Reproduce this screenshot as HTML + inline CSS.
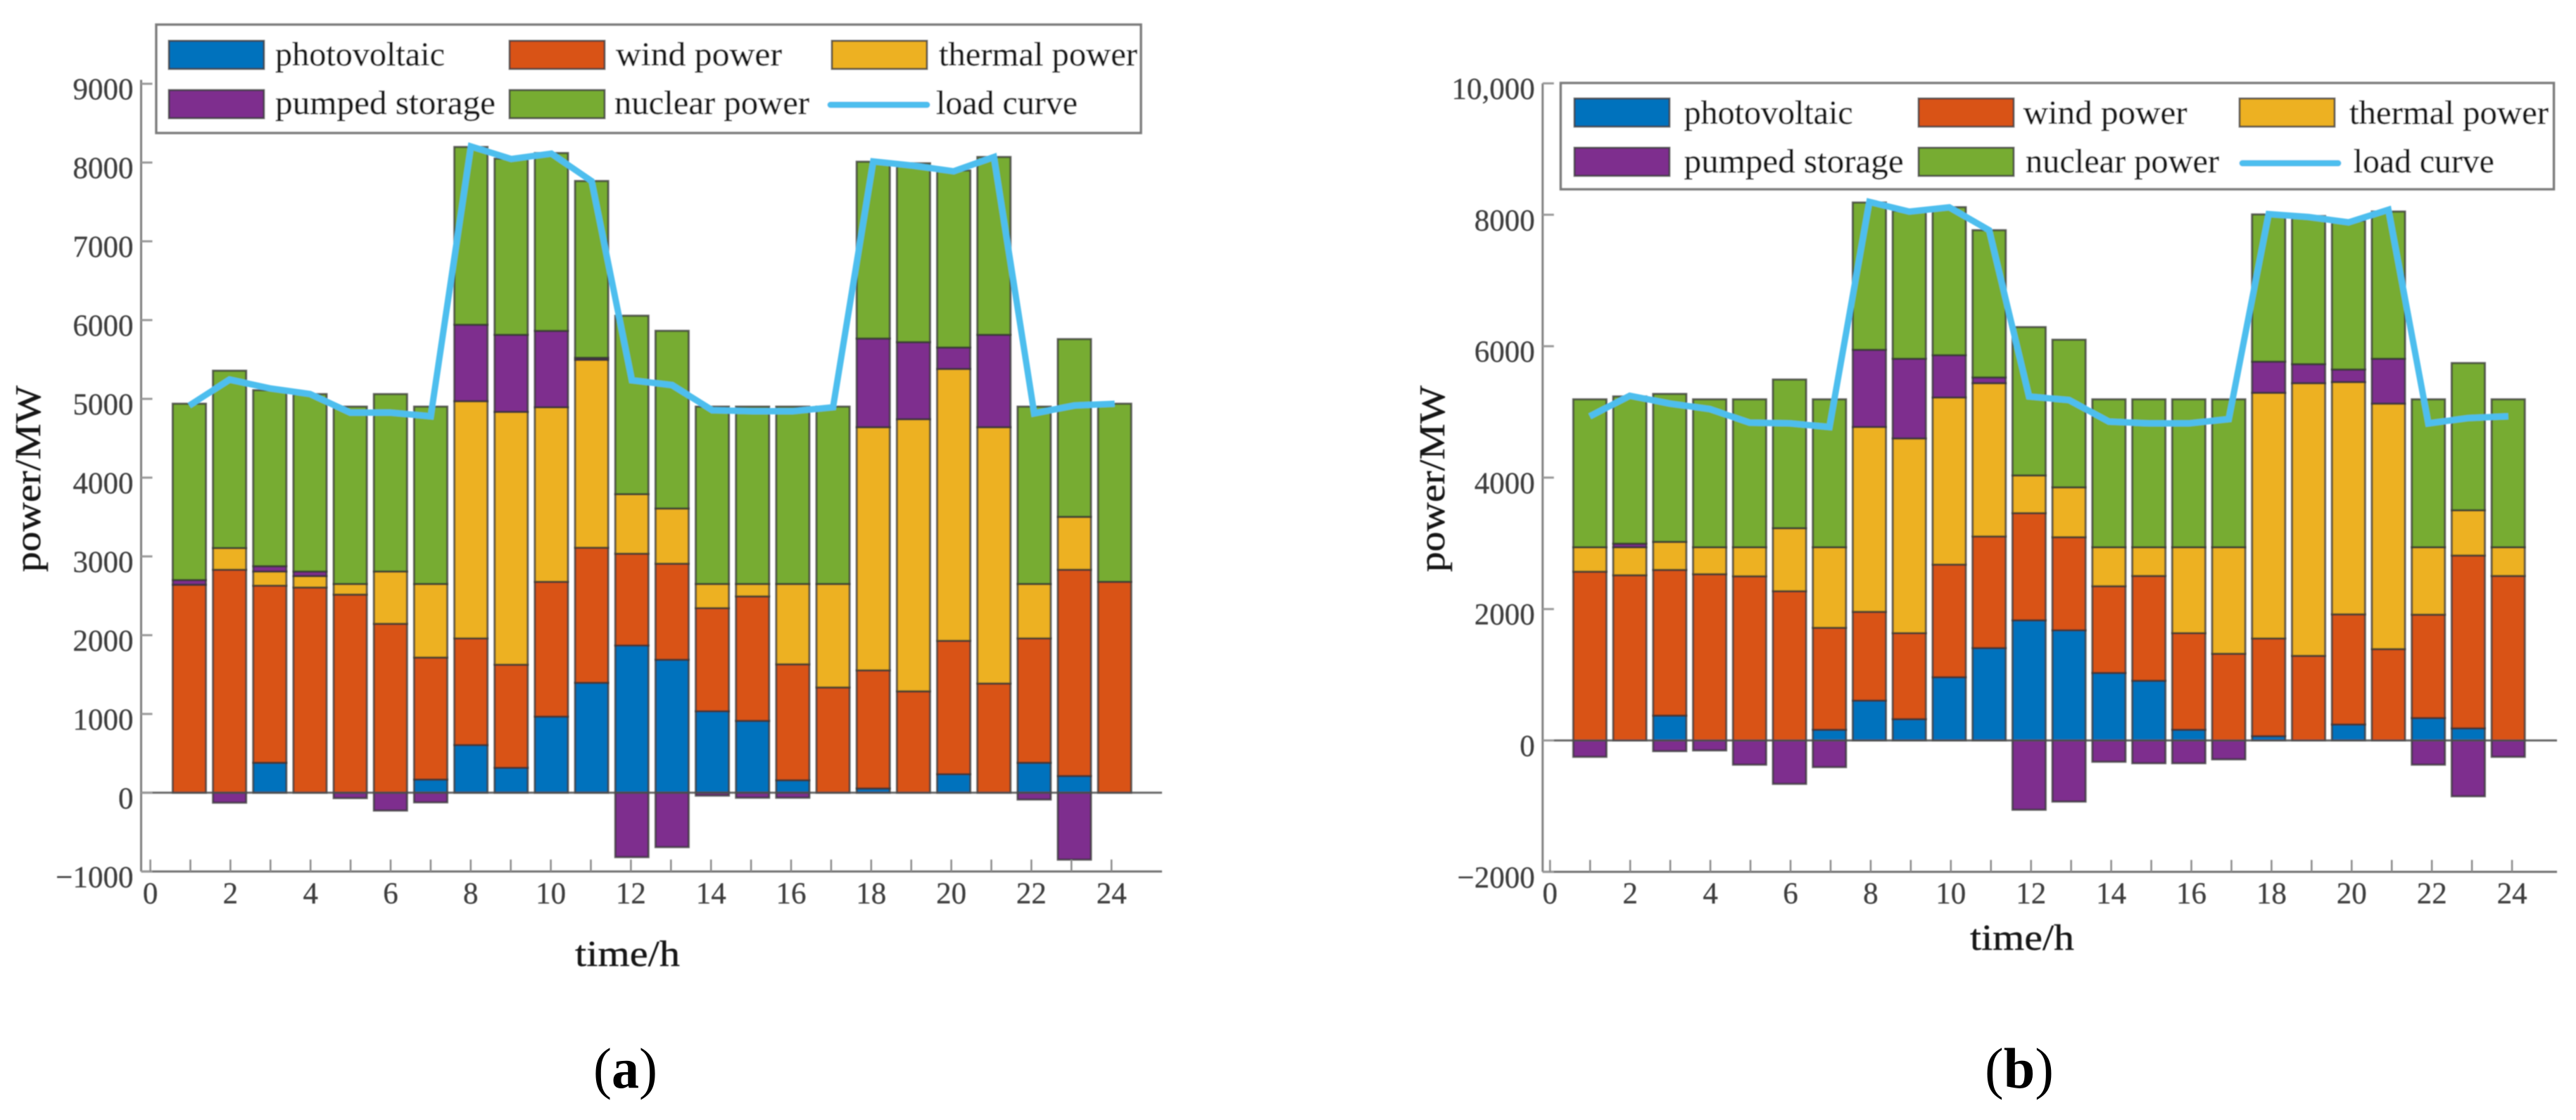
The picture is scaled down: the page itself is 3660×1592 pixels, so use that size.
<!DOCTYPE html>
<html lang="en">
<head>
<meta charset="utf-8">
<title>Power dispatch charts (a) and (b)</title>
<style>
  html, body { margin: 0; padding: 0; background: #ffffff; width: 3660px; height: 1592px; overflow: hidden; }
  svg { display: block; }
  text { font-family: "Liberation Serif", serif; }
  .tick { font-size: 43px; fill: #3e3e3e; stroke: #3e3e3e; stroke-width: 0.3px; }
  .leg { font-size: 48px; fill: #161616; stroke: #161616; stroke-width: 0.4px; }
  .title { font-size: 52px; fill: #161616; stroke: #161616; stroke-width: 0.4px; }
  .sub { font-size: 82px; fill: #000; }
</style>
</head>
<body>
<svg id="figure" xmlns="http://www.w3.org/2000/svg" width="3660" height="1592" viewBox="0 0 3660 1592">
  <defs>
    <filter id="soft" x="-2%" y="-2%" width="104%" height="104%"><feGaussianBlur stdDeviation="0.8"/></filter>
  </defs>
  <g id="chart-a" filter="url(#soft)"></g>
  <g id="chart-b" filter="url(#soft)"></g>

  <g filter="url(#soft)">
    <text class="title" transform="translate(57,813) rotate(-90)" textLength="265" lengthAdjust="spacingAndGlyphs">power/MW</text>
  </g>
  <g filter="url(#soft)">
    <text class="title" x="817" y="1373" textLength="149" lengthAdjust="spacingAndGlyphs">time/h</text>
  </g>
  <g filter="url(#soft)">
    <text class="title" transform="translate(2052,813) rotate(-90)" textLength="265" lengthAdjust="spacingAndGlyphs">power/MW</text>
  </g>
  <g filter="url(#soft)">
    <text class="title" x="2799" y="1350" textLength="148" lengthAdjust="spacingAndGlyphs">time/h</text>
  </g>

  <text class="sub" x="843" y="1546" textLength="91" lengthAdjust="spacingAndGlyphs">(<tspan font-weight="bold">a</tspan>)</text>
  <text class="sub" x="2820" y="1546" textLength="98" lengthAdjust="spacingAndGlyphs">(<tspan font-weight="bold">b</tspan>)</text>

  <g id="legend-a" filter="url(#soft)"></g>
  <g id="legend-b" filter="url(#soft)"></g>
</svg>

<script>
// ---- data ----
const hours = [1,2,3,4,5,6,7,8,9,10,11,12,13,14,15,16,17,18,19,20,21,22,23,24];
const xTickValues = [0,1,2,3,4,5,6,7,8,9,10,11,12,13,14,15,16,17,18,19,20,21,22,23,24];
const xTickLabels = ['0','2','4','6','8','10','12','14','16','18','20','22','24'];

// chart (a)
const photovoltaicA = [0,0,380,0,0,0,167,605,316,966,1395,1869,1688,1034,912,158,0,54,0,235,0,380,212,0];
const windA = [2640,2830,2248,2605,2515,2144,1549,1354,1309,1711,1715,1165,1219,1309,1580,1472,1336,1499,1287,1693,1386,1579,2618,2677];
const thermalA = [0,276,180,145,135,664,934,3011,3209,2216,2385,756,701,307,158,1020,1314,3087,3454,3451,3254,691,672,0];
const pumpedA = [60,-126,68,58,-68,-226,-122,971,979,970,27,-817,-690,-36,-63,-63,0,1126,979,273,1173,-86,-849,0];
const nuclearA = [2238,2251,2234,2252,2251,2252,2251,2256,2237,2257,2243,2265,2255,2251,2251,2251,2251,2244,2270,2248,2257,2251,2256,2261];
const loadA = [4916,5244,5134,5062,4825,4825,4779,8205,8046,8114,7765,5235,5175,4856,4843,4843,4893,8015,7960,7890,8070,4816,4916,4938];
const yTicksA = [-1000,0,1000,2000,3000,4000,5000,6000,7000,8000,9000];
const yTickLabelsA = ['\u22121000','0','1000','2000','3000','4000','5000','6000','7000','8000','9000'];

// chart (b)
const photovoltaicB = [0,0,378,0,0,0,162,606,324,962,1406,1828,1676,1027,908,162,0,65,0,243,0,341,184,0];
const windB = [2568,2514,2217,2530,2498,2271,1552,1351,1309,1714,1698,1631,1417,1320,1595,1471,1319,1487,1287,1676,1390,1573,2630,2503];
const thermalB = [372,426,427,410,442,959,1226,2813,2963,2543,2333,574,759,593,437,1307,1621,3738,4150,3535,3736,1026,689,437];
const pumpedB = [-249,55,-162,-151,-368,-660,-405,1175,1213,644,88,-1054,-930,-324,-346,-346,-287,475,290,191,683,-368,-849,-249];
const nuclearB = [2251,2240,2251,2251,2251,2262,2251,2241,2251,2252,2240,2257,2246,2251,2251,2251,2251,2240,2253,2265,2240,2251,2240,2251];
const loadB = [4934,5246,5126,5044,4836,4825,4770,8197,8049,8115,7765,5235,5180,4852,4825,4825,4891,8011,7967,7885,8077,4825,4907,4934];
const yTicksB = [-2000,0,2000,4000,6000,8000,10000];
const yTickLabelsB = ['\u22122000','0','2000','4000','6000','8000','10,000'];

const legendLabels = ['photovoltaic','wind power','thermal power','pumped storage','nuclear power','load curve'];

// ---- helpers ----
const NS = 'http://www.w3.org/2000/svg';
const FILL = { photovoltaic:'#0072BD', wind:'#D95319', thermal:'#EDB120', pumped:'#7E2F8E', nuclear:'#77AC30', load:'#4DBEEE' };
function mk(tag, attrs, parent) {
  const el = document.createElementNS(NS, tag);
  for (const k in attrs) el.setAttribute(k, attrs[k]);
  parent.appendChild(el);
  return el;
}

function drawChart(root, suffix, s, geo) {
  const yScale = v => geo.zeroY - v * geo.pxPerUnit;
  const xBar = h => geo.barX1 + (h - 1) * geo.barStep;
  const xTick = v => geo.tickX0 + v * geo.tickStep;

  // bars
  const barsG = mk('g', {}, root);
  
  
  hours.forEach((h, i) => {
    let top = 0;
    const parts = [
      ['photovoltaic', s.photovoltaic[i]],
      ['wind', s.wind[i]],
      ['thermal', s.thermal[i]],
      ['pumped', s.pumped[i]],
      ['nuclear', s.nuclear[i]]
    ];
    parts.forEach(([key, val]) => {
      if (val === 0) return;
      let lo, hi;
      if (val < 0) { lo = val; hi = 0; }
      else { lo = top; hi = top + val; top = hi; }
      const r = mk('rect', {
        x: xBar(h) - geo.barW / 2,
        y: yScale(hi),
        width: geo.barW,
        height: yScale(lo) - yScale(hi),
        fill: FILL[key],
        stroke: '#333333',
        'stroke-opacity': 0.75,
        'stroke-width': 3
      }, barsG);
      
      
    });
  });

  // axes
  const yAxis = mk('line', { x1: geo.spineX, x2: geo.spineX, y1: yScale(geo.yMax), y2: yScale(geo.yMin), stroke: '#808080', 'stroke-width': 3 }, root);
  
  
  const xAxis = mk('line', { x1: geo.spineX, x2: geo.axisEnd, y1: yScale(geo.yMin), y2: yScale(geo.yMin), stroke: '#707070', 'stroke-width': 3 }, root);
  
  
  const zero = mk('line', { x1: geo.spineX, x2: geo.axisEnd, y1: yScale(0), y2: yScale(0), stroke: '#505050', 'stroke-opacity': 0.85, 'stroke-width': 3 }, root);
  
  

  // y ticks
  s.yTicks.forEach((v, i) => {
    const t = mk('line', { x1: geo.spineX, x2: geo.spineX + 16, y1: yScale(v), y2: yScale(v), stroke: '#999999', 'stroke-width': 3 }, root);
    
    
    const lab = mk('text', { class: 'tick', x: geo.spineX - 11, y: yScale(v) + 22, 'text-anchor': 'end' }, root);
    lab.textContent = s.yTickLabels[i];
    
    
  });

  // x ticks
  xTickValues.forEach(v => {
    const t = mk('line', { x1: xTick(v), x2: xTick(v), y1: yScale(geo.yMin), y2: yScale(geo.yMin) - 17, stroke: '#8a8a8a', 'stroke-width': 2.5 }, root);
    
    
  });
  xTickLabels.forEach(str => {
    const lab = mk('text', { class: 'tick', x: xTick(Number(str)), y: 1284, 'text-anchor': 'middle' }, root);
    lab.textContent = str;
    
    
  });

  // load curve
  const pts = hours.map((h, i) => xBar(h).toFixed(1) + ',' + yScale(s.load[i]).toFixed(1)).join(' ');
  const line = mk('polyline', { points: pts, fill: 'none', stroke: FILL.load, 'stroke-width': 9, 'stroke-linejoin': 'miter', 'stroke-miterlimit': 3 }, root);
  
  
}

function drawLegend(root, suffix, g) {
  const box = mk('rect', { x: g.x, y: g.y, width: g.w, height: g.h, fill: '#ffffff', stroke: '#7c7c7c', 'stroke-width': 3.5 }, root);
  
  
  const keys = ['photovoltaic','wind','thermal','pumped','nuclear'];
  keys.forEach((key, i) => {
    const row = i < 3 ? 0 : 1;
    const col = i < 3 ? i : i - 3;
    const sw = mk('rect', { x: g.swatchX[col], y: g.swatchY[row], width: g.swatchW, height: g.swatchH, fill: FILL[key], stroke: '#333333', 'stroke-opacity': 0.75, 'stroke-width': 3 }, root);
    
    
  });
  const ln = mk('line', { x1: g.lineX1, x2: g.lineX2, y1: g.lineY, y2: g.lineY, stroke: FILL.load, 'stroke-width': 9, 'stroke-linecap': 'round' }, root);
  
  
  legendLabels.forEach((label, i) => {
    const row = i < 3 ? 0 : 1;
    const tx = mk('text', { class: 'leg', x: g.textX[i], y: g.baseY[row], textLength: g.textW[i], lengthAdjust: 'spacingAndGlyphs' }, root);
    tx.textContent = label;
    
    
  });
}

drawChart(document.getElementById('chart-a'), 'a',
  { photovoltaic: photovoltaicA, wind: windA, thermal: thermalA, pumped: pumpedA, nuclear: nuclearA, load: loadA, yTicks: yTicksA, yTickLabels: yTickLabelsA },
  { zeroY: 1126.8, pxPerUnit: 0.11197, barX1: 269, barStep: 57.16, barW: 47, tickX0: 213.6, tickStep: 56.9, spineX: 200.5, axisEnd: 1651, yMin: -1000, yMax: 9050 });

drawChart(document.getElementById('chart-b'), 'b',
  { photovoltaic: photovoltaicB, wind: windB, thermal: thermalB, pumped: pumpedB, nuclear: nuclearB, load: loadB, yTicks: yTicksB, yTickLabels: yTickLabelsB },
  { zeroY: 1052.5, pxPerUnit: 0.0934, barX1: 2258.9, barStep: 56.73, barW: 47, tickX0: 2202.3, tickStep: 56.95, spineX: 2191.8, axisEnd: 3633, yMin: -2000, yMax: 10000 });

drawLegend(document.getElementById('legend-a'), 'a', {
  x: 222, y: 35, w: 1399, h: 154,
  swatchX: [240, 724, 1182], swatchY: [58, 128], swatchW: 135, swatchH: 40,
  lineX1: 1180, lineX2: 1317, lineY: 149,
  textX: [391, 875, 1334, 391, 873, 1330],
  textW: [241, 236, 282, 313, 277, 201],
  baseY: [93, 162]
});

drawLegend(document.getElementById('legend-b'), 'b', {
  x: 2217.5, y: 118, w: 1411, h: 151,
  swatchX: [2237, 2726, 3182], swatchY: [140, 210], swatchW: 135, swatchH: 40,
  lineX1: 3186, lineX2: 3322, lineY: 232,
  textX: [2392.6, 2874.6, 3338, 2392.6, 2878, 3343.8],
  textW: [240, 233, 283, 312, 275, 200],
  baseY: [176, 245]
});
</script>
</body>
</html>
